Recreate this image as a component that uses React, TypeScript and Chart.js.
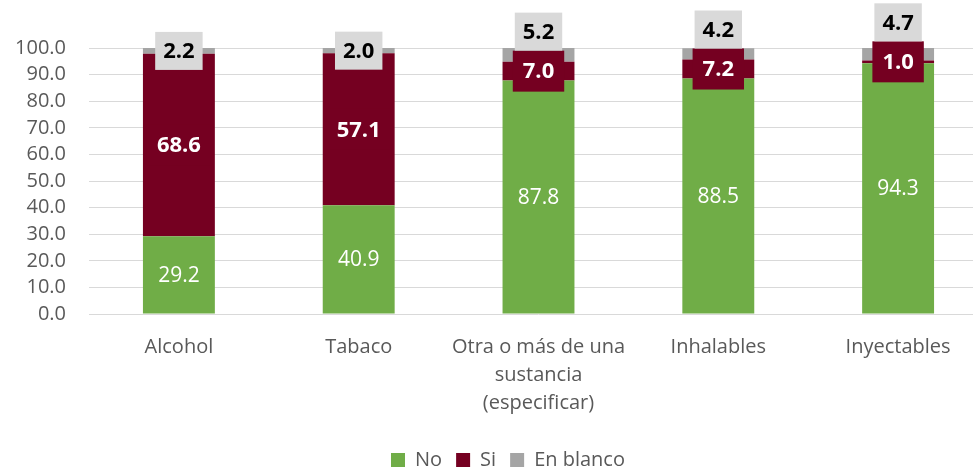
import React, { useEffect, useRef } from "react";
import { Chart, registerables } from "chart.js";

Chart.register(...registerables);

const categories: string[][] = [
  ["Alcohol"],
  ["Tabaco"],
  ["Otra o más de una", "sustancia", "(especificar)"],
  ["Inhalables"],
  ["Inyectables"],
];
const noValues = [29.2, 40.9, 87.8, 88.5, 94.3];
const siValues = [68.6, 57.1, 7.0, 7.2, 1.0];
const blancoValues = [2.2, 2.0, 5.2, 4.2, 4.7];
const seriesNames = ["No", "Si", "En blanco"];
const yMin = 0;
const yMax = 100;
const yStep = 10;

const GREEN = "#70AD47";
const RED = "#750021";
const GRAY = "#A5A5A5";
const LIGHT = "#D9D9D9";
const TEXT = "#595959";
const FAMILY = "'Open Sans', sans-serif";

const fmt = (v: number) => v.toFixed(1);

const labelPlugin = {
  id: "segLabels",
  afterLayout(chart: any) {
    // let the y tick labels use the space to the left of the axis box
    if (chart.scales.y) chart.scales.y.left = 0;
  },
  afterDatasetsDraw(chart: any) {
    const ctx = chart.ctx as CanvasRenderingContext2D;
    const m0 = chart.getDatasetMeta(0);
    const m1 = chart.getDatasetMeta(1);
    const m2 = chart.getDatasetMeta(2);
    ctx.save();
    ctx.textAlign = "center";
    ctx.textBaseline = "middle";
    for (let i = 0; i < categories.length; i++) {
      const no = m0.data[i];
      const si = m1.data[i];
      const bl = m2.data[i];
      // No label
      ctx.font = `21px ${FAMILY}`;
      ctx.fillStyle = "#FFFFFF";
      ctx.fillText(fmt(noValues[i]), no.x, (no.y + no.base) / 2 + 1);
      // Si label with box
      ctx.font = `bold 22px ${FAMILY}`;
      const siText = fmt(siValues[i]);
      const siW = ctx.measureText(siText).width + 20;
      const siH = 41;
      const siC = (si.y + si.base) / 2;
      const siTop = siC - siH / 2;
      ctx.fillStyle = RED;
      ctx.fillRect(si.x - siW / 2, siTop, siW, siH);
      ctx.fillStyle = "#FFFFFF";
      ctx.fillText(siText, si.x, siC + 1);
      // En blanco label with box, pushed above the Si box if overlapping
      const blText = fmt(blancoValues[i]);
      const blW = ctx.measureText(blText).width + 16;
      const blH = 38;
      const blC = (bl.y + bl.base) / 2;
      const bottom = Math.min(blC + blH / 2, siTop);
      const top = bottom - blH;
      ctx.fillStyle = LIGHT;
      ctx.fillRect(bl.x - blW / 2, top, blW, blH);
      ctx.fillStyle = "#000000";
      ctx.fillText(blText, bl.x, top + blH / 2 + 1);
    }
    ctx.restore();
  },
};

export default function App() {
  const ref = useRef<HTMLCanvasElement | null>(null);
  useEffect(() => {
    if (!ref.current) return;
    Chart.defaults.font.family = FAMILY;
    const chart = new Chart(ref.current, {
      type: "bar",
      data: {
        labels: categories,
        datasets: [
          { label: seriesNames[0], data: noValues, backgroundColor: GREEN },
          { label: seriesNames[1], data: siValues, backgroundColor: RED },
          { label: seriesNames[2], data: blancoValues, backgroundColor: GRAY },
        ],
      },
      options: {
        responsive: false,
        animation: false,
        devicePixelRatio: 1,
        layout: { padding: { top: 48, left: 28, right: 0, bottom: 0 } },
        datasets: {
          bar: { barPercentage: 0.4, categoryPercentage: 1.0, borderWidth: 0 },
        },
        plugins: {
          legend: {
            position: "bottom",
            labels: {
              boxWidth: 14,
              boxHeight: 14,
              padding: 14,
              color: TEXT,
              font: { size: 20, family: FAMILY },
            },
          },
          tooltip: { enabled: false },
        },
        scales: {
          x: {
            stacked: true,
            grid: { display: false, drawTicks: false },
            border: { display: false },
            ticks: {
              color: TEXT,
              font: { size: 20, family: FAMILY, lineHeight: 1.4 },
              padding: 19,
              autoSkip: false,
              maxRotation: 0,
            },
            afterFit: (scale: any) => {
              scale.height = 122;
            },
          },
          y: {
            stacked: true,
            min: yMin,
            max: yMax,
            grid: { color: LIGHT, lineWidth: 1, drawTicks: false },
            border: { display: false },
            ticks: {
              stepSize: yStep,
              autoSkip: false,
              color: TEXT,
              font: { size: 20, family: FAMILY },
              padding: 23,
              callback: (v: any) => Number(v).toFixed(1),
            },
            afterFit: (scale: any) => {
              scale.width = 61;
            },
          },
        },
      },
      plugins: [labelPlugin],
    });
    return () => chart.destroy();
  }, []);
  return (
    <div
      style={{
        position: "fixed",
        left: 0,
        top: 0,
        width: 973,
        height: 468,
        overflow: "hidden",
        background: "#FFFFFF",
      }}
    >
      <canvas ref={ref} width={988} height={480} style={{ display: "block", width: 988, height: 480 }} />
    </div>
  );
}
